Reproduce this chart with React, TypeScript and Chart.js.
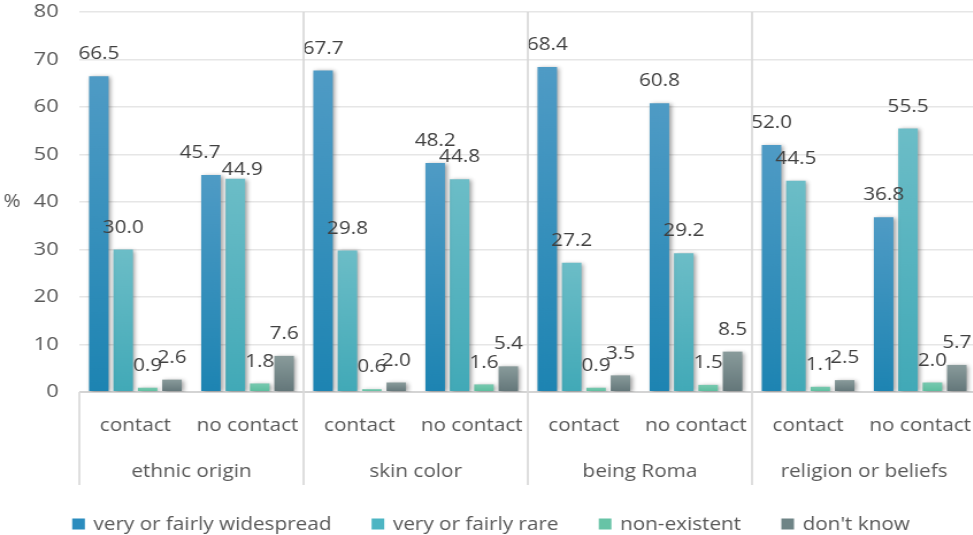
import React, { useEffect, useRef } from 'react';
import { Chart, registerables } from 'chart.js';

Chart.register(...registerables);

// ---- data ----
const groups = ['ethnic origin', 'skin color', 'being Roma', 'religion or beliefs'];
const contactLabels = ['contact', 'no contact'];
const categories = groups.flatMap(() => contactLabels);

const seriesNames = ['very or fairly widespread', 'very or fairly rare', 'non-existent', "don't know"];
const widespread = [66.5, 45.7, 67.7, 48.2, 68.4, 60.8, 52.0, 36.8];
const rare = [30.0, 44.9, 29.8, 44.8, 27.2, 29.2, 44.5, 55.5];
const nonExistent = [0.9, 1.8, 0.6, 1.6, 0.9, 1.5, 1.1, 2.0];
const dontKnow = [2.6, 7.6, 2.0, 5.4, 3.5, 8.5, 2.5, 5.7];

const yMin = 0;
const yMax = 80;
const yStep = 10;
const yTitle = '%';

// ---- styling ----
const FONT = "'Open Sans', sans-serif";
const TEXT = '#595959';
const LABEL_TEXT = '#404040';
// bar fills: [top, bottom] of each bar's gradient, plus a flat swatch colour for the legend
const fills = [
  { top: '#4f9bc5', bottom: '#1d84b2', swatch: '#2b8cbe' },
  { top: '#6cbdc7', bottom: '#41a9b7', swatch: '#4db5c3' },
  { top: '#78c9b0', bottom: '#5abd9d', swatch: '#67c3a6' },
  { top: '#899b9b', bottom: '#637679', swatch: '#6e8486' },
];
// small hand nudges for value labels that would otherwise collide: "series:category" -> [dx, dy]
const labelNudges: Record<string, [number, number]> = {
  '0:1': [-9.5, 0],
  '1:1': [6, 13],
};

// the drawing is rendered on a narrower canvas and widened by CSS
const STRETCH = 1.15;
const CSS_W = 982;
const H = 535;
const W = Math.round(CSS_W / STRETCH);

const values = [widespread, rare, nonExistent, dontKnow];

const decorPlugin = {
  id: 'decor',
  beforeDatasetsDraw(chart: any) {
    const ctx = chart.ctx;
    ctx.save();
    ctx.shadowColor = 'rgba(0,0,0,0.38)';
    ctx.shadowBlur = 4;
    ctx.shadowOffsetX = 1.8;
    ctx.shadowOffsetY = 1;
  },
  afterDatasetsDraw(chart: any) {
    const ctx = chart.ctx;
    ctx.restore();
    // value labels above the bars
    ctx.save();
    ctx.font = `18px ${FONT}`;
    ctx.fillStyle = LABEL_TEXT;
    ctx.textAlign = 'center';
    ctx.textBaseline = 'middle';
    chart.data.datasets.forEach((ds: any, i: number) => {
      const meta = chart.getDatasetMeta(i);
      meta.data.forEach((el: any, j: number) => {
        const v = ds.data[j];
        const [dx, dy] = labelNudges[`${i}:${j}`] || [0, 0];
        ctx.fillText(v.toFixed(1), el.x + dx, el.y - 22 + dy);
      });
    });
    ctx.restore();
  },
  afterDraw(chart: any) {
    const ctx = chart.ctx;
    const x = chart.scales.x;
    const y = chart.scales.y;
    const area = chart.chartArea;
    const half = (x.getPixelForValue(1) - x.getPixelForValue(0)) / 2;
    const sepBottom = 485;

    ctx.save();
    // group separators
    ctx.strokeStyle = '#d9d9d9';
    ctx.lineWidth = 1.7;
    for (let g = 0; g <= groups.length; g++) {
      const px = g === 0 ? x.getPixelForValue(0) - half : x.getPixelForValue(g * 2 - 1) + half;
      const top = g === 0 || g === groups.length ? area.bottom : area.top;
      ctx.beginPath();
      ctx.moveTo(px, top);
      ctx.lineTo(px, sepBottom);
      ctx.stroke();
    }

    // group labels
    ctx.font = `18px ${FONT}`;
    ctx.fillStyle = TEXT;
    ctx.textAlign = 'center';
    ctx.textBaseline = 'alphabetic';
    groups.forEach((name, g) => {
      const cx = (x.getPixelForValue(g * 2) + x.getPixelForValue(g * 2 + 1)) / 2;
      ctx.fillText(name, cx, 477);
    });

    // y-axis title, upright
    ctx.textBaseline = 'middle';
    ctx.fillText(yTitle, 10.5, (y.top + y.bottom) / 2);

    // legend
    const box = 11;
    const gapText = 7.5;
    const gapItem = 35;
    ctx.font = `18px ${FONT}`;
    const widths = seriesNames.map((s) => ctx.measureText(s).width);
    const total = widths.reduce((a, w) => a + box + gapText + w, 0) + gapItem * (seriesNames.length - 1);
    let lx = (chart.width - total) / 2;
    const baseY = 529.5;
    ctx.textAlign = 'left';
    ctx.textBaseline = 'alphabetic';
    seriesNames.forEach((s, i) => {
      ctx.fillStyle = fills[i].swatch;
      ctx.fillRect(lx, baseY - box, box, box);
      ctx.fillStyle = TEXT;
      ctx.fillText(s, lx + box + gapText, baseY);
      lx += box + gapText + widths[i] + gapItem;
    });
    ctx.restore();
  },
};

function gradientFill(i: number) {
  return (c: any) => {
    const chart = c.chart;
    if (c.type !== 'data' || !chart.chartArea) return fills[i].swatch;
    const ys = chart.scales.y;
    const y0 = ys.getPixelForValue(0);
    const y1 = ys.getPixelForValue(c.raw);
    if (!isFinite(y0) || !isFinite(y1) || y0 === y1) return fills[i].swatch;
    const g = chart.ctx.createLinearGradient(0, y1, 0, y0);
    g.addColorStop(0, fills[i].top);
    g.addColorStop(1, fills[i].bottom);
    return g;
  };
}

export default function App() {
  const ref = useRef<HTMLCanvasElement | null>(null);

  useEffect(() => {
    if (!ref.current) return;
    Chart.defaults.font.family = FONT;
    const chart = new Chart(ref.current, {
      type: 'bar',
      data: {
        labels: categories,
        datasets: seriesNames.map((name, i) => ({
          label: name,
          data: values[i],
          backgroundColor: gradientFill(i),
          borderWidth: 0,
          categoryPercentage: 0.87,
          barPercentage: 0.8,
        })),
      },
      options: {
        responsive: false,
        animation: false,
        devicePixelRatio: 1,
        events: [],
        layout: { padding: { top: 12, right: 5, bottom: 45, left: 0 } },
        plugins: {
          legend: { display: false },
          tooltip: { enabled: false },
        },
        scales: {
          x: {
            grid: { display: false, drawTicks: false },
            border: { display: false },
            ticks: {
              color: TEXT,
              font: { family: FONT, size: 18 },
              padding: 23,
              maxRotation: 0,
              autoSkip: false,
            },
            afterFit: (s: any) => {
              s.height = 98;
              s.paddingLeft = 0;
              s.paddingRight = 0;
            },
          },
          y: {
            min: yMin,
            max: yMax,
            border: { display: false },
            grid: {
              drawTicks: false,
              color: (c: any) => (c.tick && c.tick.value === 0 ? '#d4d4d4' : '#e6e6e6'),
              lineWidth: (c: any) => (c.tick && c.tick.value === 0 ? 2 : 1.5),
            },
            ticks: {
              stepSize: yStep,
              color: TEXT,
              font: { family: FONT, size: 19 },
              padding: 18,
            },
            afterFit: (s: any) => {
              s.width = 69;
              s.paddingTop = 0;
              s.paddingBottom = 0;
            },
          },
        },
      },
      plugins: [decorPlugin],
    } as any);
    return () => chart.destroy();
  }, []);

  return (
    <div
      style={{
        position: 'fixed',
        left: 0,
        top: 0,
        width: 973,
        height: 535,
        overflow: 'hidden',
        background: '#ffffff',
      }}
    >
      <canvas
        ref={ref}
        width={W}
        height={H}
        style={{ width: `${CSS_W}px`, height: `${H}px`, display: 'block' }}
      />
    </div>
  );
}
